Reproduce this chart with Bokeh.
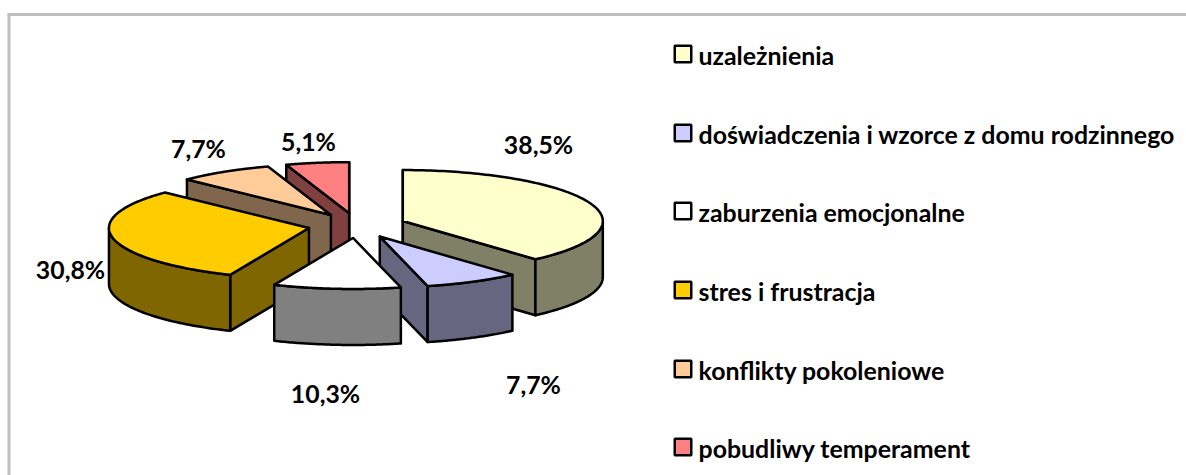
import numpy as np
from bokeh.plotting import figure
from bokeh.models import Range1d
from bokeh.core.properties import value
from bokeh.embed import file_html
from bokeh.resources import INLINE

categories = ["uzależnienia", "doświadczenia i wzorce z domu rodzinnego",
              "zaburzenia emocjonalne", "stres i frustracja",
              "konflikty pokoleniowe", "pobudliwy temperament"]
shares = [38.5, 7.7, 10.3, 30.8, 7.7, 5.1]
top_colors = ["#FFFFCC", "#CCCCFF", "#FFFFFF", "#FFCC00", "#FFCC99", "#FF8080"]
side_colors = ["#808066", "#666680", "#808080", "#806600", "#80664D", "#804040"]

W, H = 1186, 475
FONT = "Lato"
CX, CY, RX, RY, DEPTH, EXPLODE = 356.5, 225.0, 200.0, 51.0, 56.0, 0.245
DRAW_ORDER = [0, 1, 5, 4, 3, 2]
LABEL_POS = [(538, 144), (533, 384), (325, 393), (70, 269), (198, 148), (308, 141)]
LEGEND_Y = [54, 133, 211, 290, 369, 447]

p = figure(width=W, height=H, x_range=Range1d(0, W), y_range=Range1d(H, 0),
           output_backend="svg", toolbar_location=None, min_border=0,
           outline_line_color=None, background_fill_color="white",
           x_axis_type=None, y_axis_type=None)
p.grid.visible = False

# chart-area border: only the top and left edges fall inside the picture
p.line([8.5, 8.5], [H, 14], line_color="#C0C0C0", line_width=3)
p.line([7, W], [14, 14], line_color="#C0C0C0", line_width=3)

total = sum(shares)
edges = np.concatenate([[0.0], np.cumsum(shares)]) / total * 2 * np.pi


def outline(ax, ay, t):
    return ax + RX * np.sin(t), ay - RY * np.cos(t)


def face(xs, ys, color):
    p.patch(list(xs), list(ys), fill_color=color, line_color="black",
            line_width=2.5, line_join="round")


for i in DRAW_ORDER:
    t0, t1 = edges[i], edges[i + 1]
    mid = (t0 + t1) / 2
    ax, ay = outline(CX, CY, mid)
    ax, ay = CX + (ax - CX) * EXPLODE, CY + (ay - CY) * EXPLODE
    # radial walls that face the viewer
    for t, visible in ((t0, -np.sin(t0) > -1e-9), (t1, np.sin(t1) > -1e-9)):
        if visible:
            ex, ey = outline(ax, ay, t)
            face([ax, ex, ex, ax], [ay, ey, ey + DEPTH, ay + DEPTH], side_colors[i])
    # outer curved wall
    a0, a1 = max(t0, np.pi / 2), min(t1, 3 * np.pi / 2)
    if a1 > a0:
        ts = np.linspace(a0, a1, 60)
        ex, ey = outline(ax, ay, ts)
        face(np.r_[ex, ex[::-1]], np.r_[ey, ey[::-1] + DEPTH], side_colors[i])
    # top
    ts = np.linspace(t0, t1, 120)
    ex, ey = outline(ax, ay, ts)
    face(np.r_[ax, ex], np.r_[ay, ey], top_colors[i])

# percentage labels
p.text([q[0] for q in LABEL_POS], [q[1] for q in LABEL_POS],
       text=[f"{s:.1f}%".replace(".", ",") for s in shares],
       text_font=value(FONT), text_font_style="bold", text_font_size="24.8px",
       text_color="black", text_align="center", text_baseline="middle")

# legend
p.rect([682.5] * 6, [y - 0.5 for y in LEGEND_Y], width=16.5, height=16.5,
       fill_color=top_colors, line_color="black", line_width=2.5)
p.text([698] * 6, LEGEND_Y, text=categories,
       text_font=value(FONT), text_font_style="bold", text_font_size="24.9px",
       text_color="black", text_align="left", text_baseline="middle")

open("out.html", "w").write(file_html(p, INLINE))
